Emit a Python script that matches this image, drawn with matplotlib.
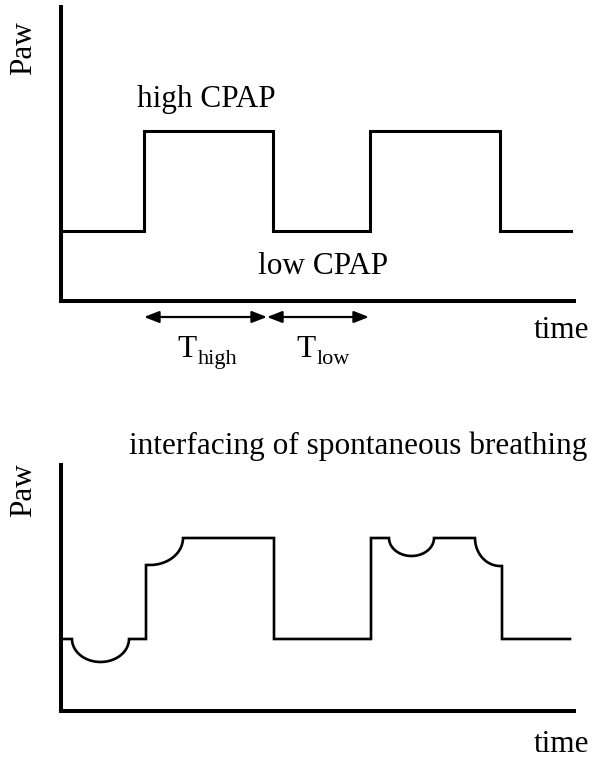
import numpy as np
import matplotlib
matplotlib.use("Agg")
import matplotlib.pyplot as plt

W, H = 597, 759
FONT = ["Liberation Serif", "DejaVu Serif"]

# ---- data (time units ~ schematic, pressure units arbitrary) ----
# top panel: square wave between low and high CPAP
top_t = [0, 83, 83, 212, 212, 309, 309, 439, 439, 510]
top_p = [70, 70, 170, 170, 70, 70, 170, 170, 70, 70]

# arrows (time intervals)
t_high_span = [83, 206]
t_low_span = [206, 308]

# bottom panel: waveform with spontaneous breathing
# nodes: straight points, and arcs (cx, cy, rx, ry, a0_deg, a1_deg)
bottom_nodes = [
    ("pt", 0, 72), ("pt", 11, 72),
    ("arc", 39.5, 72, 28.5, 23, 180, 360),
    ("pt", 85, 72), ("pt", 85, 146), ("pt", 89, 146),
    ("arc", 89, 173, 33, 27, 270, 360),
    ("pt", 213, 173), ("pt", 213, 72), ("pt", 310, 72), ("pt", 310, 173),
    ("pt", 328, 173),
    ("arc", 350.5, 173, 22.5, 18, 180, 360),
    ("pt", 414, 173),
    ("arc", 439, 173, 25, 28, 180, 270),
    ("pt", 441, 145), ("pt", 441, 72), ("pt", 509, 72),
]


def build(nodes):
    xs, ys = [], []
    for n in nodes:
        if n[0] == "pt":
            xs.append(n[1]); ys.append(n[2])
        else:
            _, cx, cy, rx, ry, a0, a1 = n
            th = np.radians(np.linspace(a0, a1, 60))
            xs.extend(cx + rx * np.cos(th)); ys.extend(cy + ry * np.sin(th))
    return np.array(xs), np.array(ys)


fig = plt.figure(figsize=(W / 100, H / 100), dpi=100)


def fx(x):
    return x / W


def fy(y):
    return 1 - y / H


def style(ax, xmax, ymax):
    ax.set_xlim(0, xmax)
    ax.set_ylim(0, ymax)
    for s in ["top", "right"]:
        ax.spines[s].set_visible(False)
    for s in ["left", "bottom"]:
        ax.spines[s].set_linewidth(2.9)
        ax.spines[s].set_capstyle("projecting")
    ax.set_xticks([]); ax.set_yticks([])
    ax.patch.set_alpha(0)


# top axes
ax1 = fig.add_axes([fx(61), fy(301), (574 - 61) / W, (301 - 7) / H])
style(ax1, 513, 294)
ax1.plot(top_t, top_p, color="black", lw=2.2, solid_joinstyle="miter")

# bottom axes
ax2 = fig.add_axes([fx(61), fy(711), (574 - 61) / W, (711 - 465) / H])
style(ax2, 513, 246)
bx, by = build(bottom_nodes)
ax2.plot(bx, by, color="black", lw=1.9, solid_joinstyle="miter")

# arrows below top axis
for a, b in (t_high_span, t_low_span):
    ax1.annotate("", xy=(b, -16), xytext=(a, -16), xycoords="data",
                 annotation_clip=False,
                 arrowprops=dict(arrowstyle="<|-|>,head_length=0.9,head_width=0.35",
                                 color="black", lw=1.6, shrinkA=0, shrinkB=0))

fs = 22.5


def txt(x, y, s, **kw):
    kw.setdefault("fontsize", fs)
    fig.text(fx(x), fy(y), s, family=FONT, ha=kw.pop("ha", "center"),
             va=kw.pop("va", "center"), **kw)


txt(24, 48, "Paw", rotation=90)
txt(206, 100, "high CPAP")
txt(323, 266, "low CPAP")
txt(562, 331, "time")
txt(187, 357, "T", va="baseline")
txt(198, 364, "high", ha="left", va="baseline", fontsize=16)
txt(306, 357, "T", va="baseline")
txt(317, 364, "low", ha="left", va="baseline", fontsize=16)
txt(358, 446, "interfacing of spontaneous breathing")
txt(24, 490, "Paw", rotation=90)
txt(562, 745, "time")

fig.savefig("out.png", dpi=100)
